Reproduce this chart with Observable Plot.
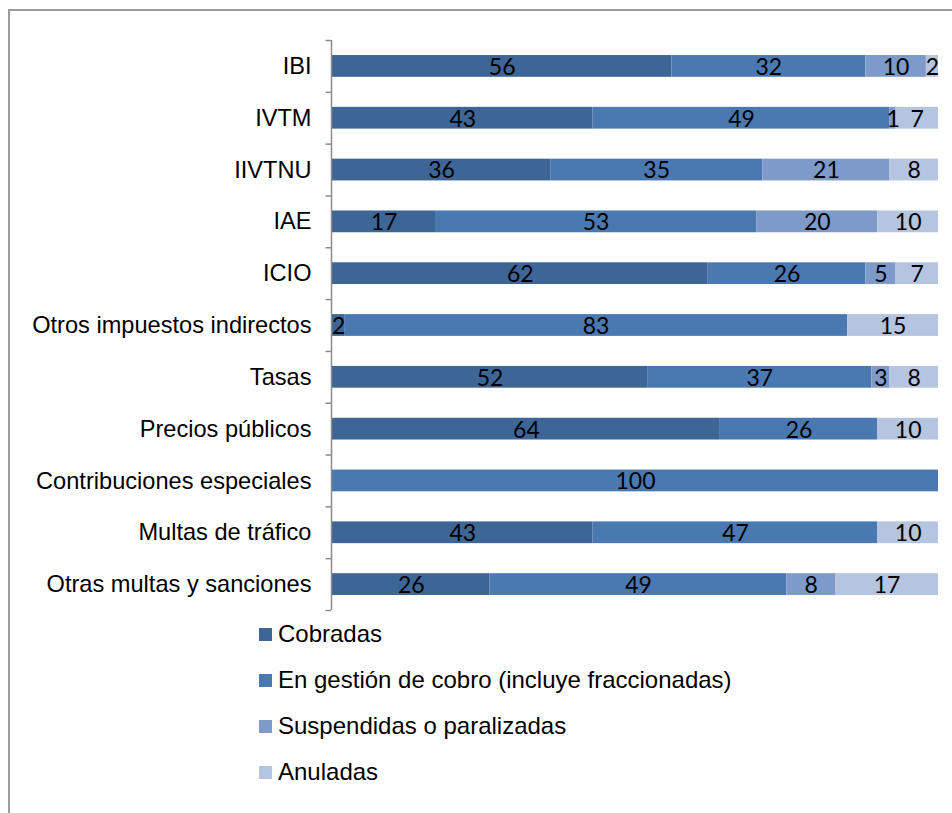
<!DOCTYPE html>
<html>
<head>
<meta charset="utf-8">
<script src="https://cdn.jsdelivr.net/npm/d3@7"></script>
<script src="https://cdn.jsdelivr.net/npm/@observablehq/plot@0.6"></script>
<style>
  html, body { margin: 0; padding: 0; background: #fff; }
  body { width: 952px; height: 813px; position: relative; overflow: hidden; }
  #frame { position: absolute; left: 8px; top: 9px; width: 980px; height: 850px; border: 2px solid #9a9a9a; box-sizing: border-box; }
  #chart { position: absolute; left: 0; top: 0; line-height: 0; }
  #legend { position: absolute; left: 259px; top: 611px; font-family: "Liberation Sans", Arial, sans-serif; font-size: 24px; color: #000; }
  .item { height: 46px; display: flex; align-items: center; }
  .sw { width: 13px; height: 13px; margin-right: 6px; }
</style>
</head>
<body>
<div id="frame"></div>
<div id="chart"></div>
<div id="legend"></div>
<script>
const categories = ["IBI", "IVTM", "IIVTNU", "IAE", "ICIO", "Otros impuestos indirectos", "Tasas", "Precios públicos", "Contribuciones especiales", "Multas de tráfico", "Otras multas y sanciones"];
const series = ["Cobradas", "En gestión de cobro (incluye fraccionadas)", "Suspendidas o paralizadas", "Anuladas"];
const colors = ["#3d6595", "#4a79b1", "#7d9ac8", "#b5c4df"];
const cobradas    = [56, 43, 36, 17, 62, 2, 52, 64, 0, 43, 26];
const enGestion   = [32, 49, 35, 53, 26, 83, 37, 26, 100, 47, 49];
const suspendidas = [10, 1, 21, 20, 5, 0, 3, 0, 0, 0, 8];
const anuladas    = [2, 7, 8, 10, 7, 15, 8, 10, 0, 10, 17];

const valuesBySeries = [cobradas, enGestion, suspendidas, anuladas];
const data = [];
categories.forEach((c, i) => {
  series.forEach((s, j) => {
    const v = valuesBySeries[j][i];
    if (v > 0) data.push({category: c, status: s, value: v});
  });
});

const marginTop = 40, marginBottom = 4, height = 614;
const step = (height - marginTop - marginBottom) / categories.length;

const chart = Plot.plot({
  width: 952,
  height,
  marginLeft: 332,
  marginRight: 14,
  marginTop,
  marginBottom,
  x: {domain: [0, 100], axis: null},
  y: {domain: categories, paddingInner: 0.58, paddingOuter: 0.29, round: false, label: null},
  color: {domain: series, range: colors},
  style: {fontFamily: "'Liberation Sans', Arial, sans-serif", background: "transparent"},
  marks: [
    Plot.barX(data, Plot.stackX({x: "value", y: "category", fill: "status", order: series})),
    Plot.text(data, Plot.stackX({x: "value", y: "category", z: "status", order: series, text: "value",
      fill: "#000", fontSize: 23, fontFamily: "Lato, sans-serif", dy: 1})),
    Plot.axisY({tickSize: 0, tickPadding: 21, fontSize: 23.6, fontFamily: "'Liberation Sans', Arial, sans-serif", fill: "#000", label: null}),
    Plot.ruleX([0], {stroke: "#8c8c8c", strokeWidth: 1.5, dx: -1}),
    Plot.ruleY(categories, {y: d => d, dy: -step / 2, x1: -0.9, x2: 0, stroke: "#8c8c8c", strokeWidth: 1.5, dx: -1}),
    Plot.ruleY(categories.slice(-1), {y: d => d, dy: step / 2, x1: -0.9, x2: 0, stroke: "#8c8c8c", strokeWidth: 1.5, dx: -1})
  ]
});
document.getElementById("chart").appendChild(chart);

const legend = document.getElementById("legend");
series.forEach((s, j) => {
  const item = document.createElement("div");
  item.className = "item";
  const sw = document.createElement("span");
  sw.className = "sw";
  sw.style.background = colors[j];
  const t = document.createElement("span");
  t.textContent = s;
  item.appendChild(sw);
  item.appendChild(t);
  legend.appendChild(item);
});
</script>
</body>
</html>
